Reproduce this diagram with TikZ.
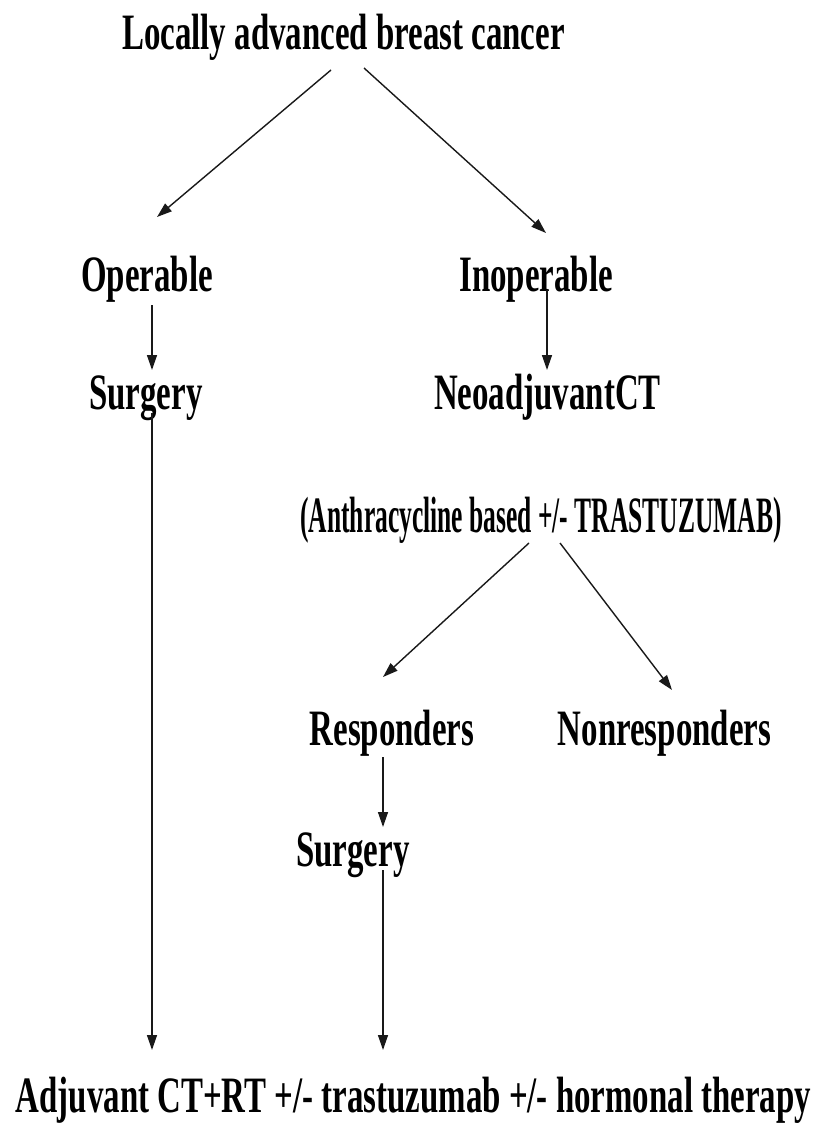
\documentclass[tikz,border=0pt]{standalone}
\usepackage{fontspec}
\newfontfamily\mainf{Liberation Serif}[FakeStretch=0.645]
\newfontfamily\narf{Liberation Serif}[FakeStretch=0.50]
\usetikzlibrary{arrows.meta,calc}
\tikzset{
  lbl/.style={inner sep=0pt, anchor=base, font=\mainf\bfseries\fontsize{51}{60}\selectfont},
  nlbl/.style={inner sep=0pt, anchor=base, font=\narf\bfseries\fontsize{51}{60}\selectfont},
  arr/.style={draw=black!90, line width=1.4pt, -{Triangle[width=10pt,length=15pt]}}
}
\begin{document}
\begin{tikzpicture}[x=1pt,y=-1pt]
\path[use as bounding box, fill=white] (0,0) rectangle (819,1127);
\node[lbl] (title) at (343.5,49) {Locally advanced breast cancer};
\node[lbl] (oper) at (147,291) {Operable};
\node[lbl] (inop) at (536,291) {Inoperable};
\node[lbl] (surg1) at (146,409) {Surgery};
\node[lbl] (neo) at (547.5,409) {NeoadjuvantCT};
\node[nlbl] (anth) at (541,532) {(Anthracycline based +/- TRASTUZUMAB)};
\node[lbl] (resp) at (392,745) {Responders};
\node[lbl] (nonr) at (664.5,745) {Nonresponders};
\node[lbl] (surg2) at (353,866) {Surgery};
\node[lbl] (adj) at (413.5,1112) {Adjuvant CT+RT +/- trastuzumab +/- hormonal therapy};

\draw[arr] ($(title.base)+(-12.5,21)$) -- ($(oper.base)+(10,-74)$);
\draw[arr] ($(title.base)+(20.5,19)$) -- ($(inop.base)+(10,-58)$);
\draw[arr] ($(oper.base)+(5,14)$) -- ($(surg1.base)+(6,-39)$);
\draw[arr] ($(inop.base)+(11,-1)$) -- ($(neo.base)+(-0.5,-39)$);
\draw[arr] ($(surg1.base)+(6,4)$) -- ($(adj.base)+(-261.5,-62)$);
\draw[arr] ($(anth.base)+(-12,11)$) -- ($(resp.base)+(-9,-68)$);
\draw[arr] ($(anth.base)+(19,11)$) -- ($(nonr.base)+(7.5,-55)$);
\draw[arr] ($(resp.base)+(-9,12)$) -- ($(surg2.base)+(30,-39)$);
\draw[arr] ($(surg2.base)+(30,4)$) -- ($(adj.base)+(-30.5,-62)$);
\end{tikzpicture}
\end{document}
